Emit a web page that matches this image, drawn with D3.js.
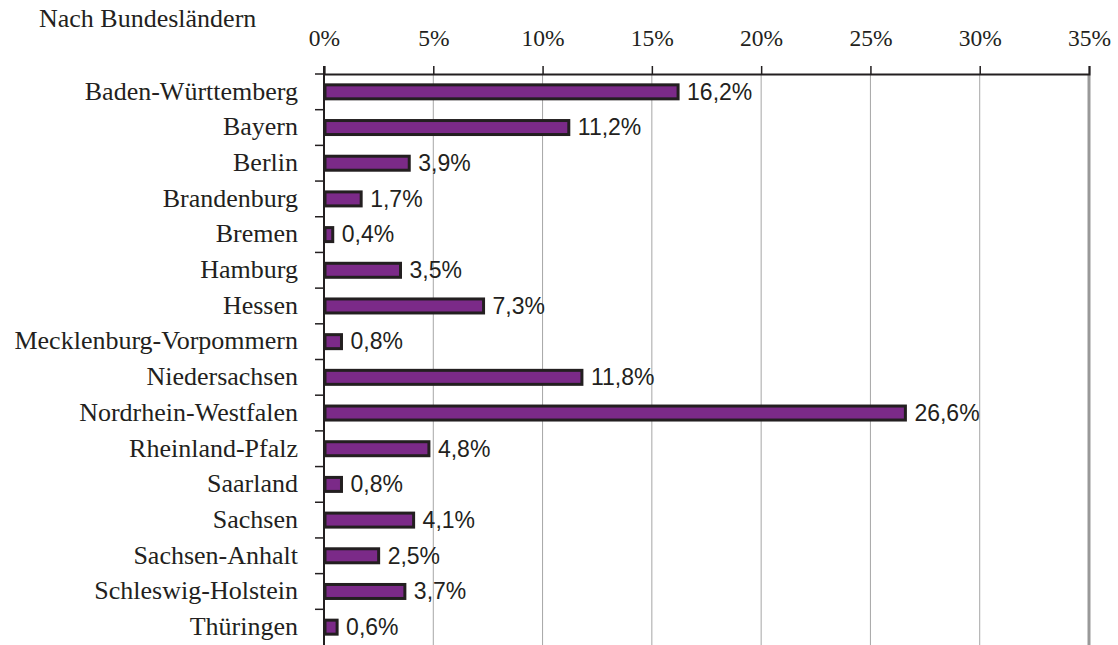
<!DOCTYPE html>
<html>
<head>
<meta charset="utf-8">
<script src="https://cdn.jsdelivr.net/npm/d3@7"></script>
<style>
  html, body { margin: 0; padding: 0; background: #fff; }
  svg { display: block; }
</style>
</head>
<body>
<svg id="chart" width="1118" height="645"></svg>
<script>
// Anteile nach Bundesländern (in Prozent)
const laender = [
  "Baden-Württemberg", "Bayern", "Berlin", "Brandenburg", "Bremen", "Hamburg",
  "Hessen", "Mecklenburg-Vorpommern", "Niedersachsen", "Nordrhein-Westfalen",
  "Rheinland-Pfalz", "Saarland", "Sachsen", "Sachsen-Anhalt",
  "Schleswig-Holstein", "Thüringen"
];
const anteile = [16.2, 11.2, 3.9, 1.7, 0.4, 3.5, 7.3, 0.8, 11.8, 26.6, 4.8, 0.8, 4.1, 2.5, 3.7, 0.6];
const achsenWerte = [0, 5, 10, 15, 20, 25, 30, 35];
const titel = "Nach Bundesländern";

const svg = d3.select("#chart");
const plot = { left: 324, right: 1089, top: 74, bottom: 645 };

const x = d3.scaleLinear().domain([0, 35]).range([plot.left, plot.right]);
const y = d3.scaleBand().domain(laender).range([plot.top, plot.bottom]).paddingInner(0).paddingOuter(0);

const serif = "'Liberation Serif', 'Times New Roman', serif";
const sans = "'Liberation Sans', Arial, sans-serif";
const ink = "#231F20";
const fmt = v => d3.format(".1f")(v).replace(".", ",") + "%";

// Titel
svg.append("text")
  .attr("x", 39).attr("y", 27)
  .attr("font-family", serif).attr("font-size", 26).attr("fill", ink)
  .text(titel);

// Gitterlinien
svg.append("g")
  .selectAll("line")
  .data(achsenWerte.filter(v => v > 0 && v < 35))
  .join("line")
  .attr("x1", d => x(d)).attr("x2", d => x(d))
  .attr("y1", plot.top).attr("y2", plot.bottom)
  .attr("stroke", "#a6a6a6").attr("stroke-width", 1);

// Rechter Rand
svg.append("line")
  .attr("x1", x(35)).attr("x2", x(35))
  .attr("y1", plot.top).attr("y2", plot.bottom)
  .attr("stroke", "#999").attr("stroke-width", 3);

// Obere Achse
const xAxis = d3.axisTop(x)
  .tickValues(achsenWerte)
  .tickSize(8)
  .tickPadding(20)
  .tickFormat(d => d + "%");
const gx = svg.append("g").attr("transform", `translate(0,${plot.top})`).call(xAxis);
gx.select(".domain").attr("stroke", ink).attr("stroke-width", 2);
gx.selectAll(".tick line").attr("stroke", ink).attr("stroke-width", 1.5);
gx.selectAll(".tick text")
  .attr("font-family", serif).attr("font-size", 23.5).attr("fill", ink);

// Linke Achse
const yAxis = d3.axisLeft(y).tickSize(0).tickPadding(26);
const gy = svg.append("g").attr("transform", `translate(${plot.left},0)`).call(yAxis);
gy.select(".domain").remove();
gy.selectAll(".tick text")
  .attr("font-family", serif).attr("font-size", 26).attr("fill", ink)
  .attr("dy", "0.3em");

// Trennstriche zwischen den Kategorien
svg.append("g")
  .selectAll("line")
  .data(laender)
  .join("line")
  .attr("x1", plot.left - 9).attr("x2", plot.left)
  .attr("y1", d => y(d)).attr("y2", d => y(d))
  .attr("stroke", ink).attr("stroke-width", 1.5);

svg.append("line")
  .attr("x1", plot.left).attr("x2", plot.left)
  .attr("y1", plot.top - 8).attr("y2", plot.bottom)
  .attr("stroke", ink).attr("stroke-width", 2);

// Balken
const barH = 14;
svg.append("g")
  .selectAll("rect")
  .data(laender)
  .join("rect")
  .attr("x", x(0) + 1)
  .attr("y", d => y(d) + y.bandwidth() / 2 - barH / 2)
  .attr("width", (d, i) => x(anteile[i]) - x(0) - 1)
  .attr("height", barH)
  .attr("fill", "#7B2A88")
  .attr("stroke", ink).attr("stroke-width", 3);

// Wertbeschriftungen
svg.append("g")
  .selectAll("text")
  .data(laender)
  .join("text")
  .attr("x", (d, i) => x(anteile[i]) + 9)
  .attr("y", d => y(d) + y.bandwidth() / 2)
  .attr("dy", "0.34em")
  .attr("font-family", sans).attr("font-size", 23).attr("fill", ink)
  .text((d, i) => fmt(anteile[i]));
</script>
</body>
</html>
